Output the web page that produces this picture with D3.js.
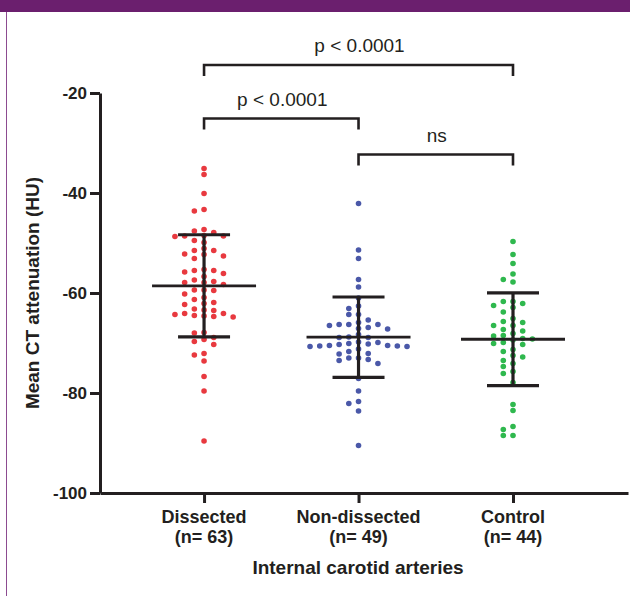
<!DOCTYPE html>
<html>
<head>
<meta charset="utf-8">
<script src="https://cdn.jsdelivr.net/npm/d3@7"></script>
<style>
  body { margin: 0; background: #fff; }
  svg { display: block; font-family: 'Liberation Sans', Arial, sans-serif; }
</style>
</head>
<body>
<div id="chart"></div>
<script>
// values (HU)
var groups = ['Dissected', 'Non-dissected', 'Control']
var groupColors = ['#e8393f', '#4a58a8', '#2fb84e']

var dissected = [-35.1, -36.3, -40.1, -43.3, -43.6, -47.3, -47.6, -47.9, -48.6, -48.6,
  -48.5, -48.7, -49.5, -49.9, -51.5, -51.1, -51.5, -52.6, -52.3, -52.2, -53.1, -55.3,
  -55.5, -55.5, -56.1, -55.8, -56.7, -57.4, -57.9, -57.9, -58.3, -57.7, -59.5, -59.4,
  -59.4, -60.2, -60.9, -61.3, -61.9, -62.3, -62.1, -63.2, -63.4, -63.5, -64.1, -64.3,
  -64.7, -64.6, -64.8, -64.1, -64.5, -68.0, -67.9, -68.9, -69.3, -70.3, -69.7, -72.4,
  -72.1, -73.6, -76.7, -79.6, -89.6]

var nonDissected = [-42.1, -51.4, -53.1, -57.3, -58.8, -61.0, -62.6, -63.1, -64.3, -64.3,
  -65.4, -65.9, -66.3, -66.3, -66.5, -66.3, -67.1, -67.2, -66.9, -68.3, -68.9, -68.9,
  -68.8, -69.8, -70.2, -70.7, -70.6, -70.6, -70.5, -70.5, -69.9, -70.7, -70.3, -70.1,
  -71.2, -72.2, -71.7, -72.1, -73.3, -73.0, -73.0, -73.5, -74.1, -77.1, -79.6, -82.1,
  -81.7, -83.6, -90.5]

var control = [-49.7, -52.3, -54.1, -56.2, -57.3, -57.8, -61.7, -61.7, -62.1, -62.5,
  -62.9, -63.8, -65.1, -65.7, -65.9, -66.5, -66.5, -67.3, -67.6, -68.1, -68.5, -68.6,
  -69.2, -69.4, -69.1, -69.9, -70.3, -70.1, -71.3, -71.7, -72.5, -72.8, -73.5, -74.1,
  -74.7, -75.7, -76.1, -77.9, -82.3, -83.5, -86.7, -87.3, -88.5, -88.5]

var yTicks = [-20, -40, -60, -80, -100]

var comparisons = [
  { from: 0, to: 2, label: 'p < 0.0001' },
  { from: 0, to: 1, label: 'p < 0.0001' },
  { from: 1, to: 2, label: 'ns' }
]

var series = [dissected, nonDissected, control]

document.addEventListener('DOMContentLoaded', function () {
  var width = 630
  var height = 596
  var ink = '#231f20'

  var svg = d3.select('#chart')
    .append('svg')
    .attr('width', width)
    .attr('height', height)

  // frame: purple band on top and thin rule on the left
  svg.append('rect')
    .attr('x', 0).attr('y', 0)
    .attr('width', width).attr('height', 12)
    .attr('fill', '#6b1f6e')
  svg.append('line')
    .attr('x1', 6.5).attr('x2', 6.5)
    .attr('y1', 12).attr('y2', height)
    .attr('stroke', '#8c4b90')
    .attr('stroke-width', 1)

  var x = d3.scalePoint()
    .domain(groups)
    .range([100, 628])
    .padding(0.709)
    .align(0.475)

  var y = d3.scaleLinear()
    .domain([-100, -20])
    .range([493, 93])

  // y axis (plain hyphen for the minus, as in the figure)
  var yAxis = svg.append('g')
    .attr('transform', 'translate(100,0)')
    .call(d3.axisLeft(y)
      .tickValues(yTicks)
      .tickFormat(function (d) { return String(d) })
      .tickSize(10).tickSizeOuter(0).tickPadding(3))
  yAxis.select('.domain').attr('stroke', ink).attr('stroke-width', 3)
  yAxis.selectAll('.tick line').attr('stroke', ink).attr('stroke-width', 3)
  yAxis.selectAll('.tick text')
    .attr('fill', ink)
    .style('font-size', '17px')
    .style('font-weight', 'bold')

  // x axis
  var xAxis = svg.append('g')
    .attr('transform', 'translate(0,493)')
    .call(d3.axisBottom(x).tickSize(10).tickSizeOuter(0))
  xAxis.select('.domain').attr('stroke', ink).attr('stroke-width', 3)
  xAxis.selectAll('.tick line').attr('stroke', ink).attr('stroke-width', 3)
  xAxis.selectAll('.tick text').remove()

  var labels = svg.append('g')
    .style('font-size', '18px')
    .style('font-weight', 'bold')
    .attr('fill', ink)
    .attr('text-anchor', 'middle')
  groups.forEach(function (g, i) {
    labels.append('text')
      .attr('x', x(g)).attr('y', 523)
      .text(g)
    labels.append('text')
      .attr('x', x(g)).attr('y', 543)
      .text('(n= ' + series[i].length + ')')
  })

  svg.append('text')
    .attr('x', 358)
    .attr('y', 574)
    .attr('text-anchor', 'middle')
    .attr('fill', ink)
    .style('font-size', '19px')
    .style('font-weight', 'bold')
    .text('Internal carotid arteries')

  svg.append('text')
    .attr('transform', 'translate(38.5,293) rotate(-90)')
    .attr('text-anchor', 'middle')
    .attr('fill', ink)
    .style('font-size', '19px')
    .style('font-weight', 'bold')
    .text('Mean CT attenuation (HU)')

  // simple column scatter: push a point sideways when its slot is taken
  function swarm (values, minGap) {
    var placed = []
    var slots = new Array(values.length)
    var order = d3.range(values.length).sort(function (a, b) {
      return d3.descending(values[a], values[b])
    })
    order.forEach(function (i) {
      var py = y(values[i])
      for (var j = 0; ; j++) {
        var k = j === 0 ? 0 : (j % 2 ? -Math.ceil(j / 2) : Math.ceil(j / 2))
        var hit = placed.some(function (p) {
          return p.k === k && Math.abs(p.py - py) < minGap
        })
        if (!hit) {
          placed.push({ k: k, py: py })
          slots[i] = k
          break
        }
      }
    })
    return slots
  }

  var slotWidth = 9.7

  series.forEach(function (values, gi) {
    var cx = x(groups[gi])
    var slots = swarm(values, 5.6)
    var g = svg.append('g')

    g.selectAll('circle')
      .data(values)
      .enter()
      .append('circle')
      .attr('cx', function (d, i) { return cx + slots[i] * slotWidth })
      .attr('cy', function (d) { return y(d) })
      .attr('r', 2.8)
      .attr('fill', groupColors[gi])

    var mean = d3.mean(values)
    var sd = d3.deviation(values)

    g.append('line')
      .attr('x1', cx).attr('x2', cx)
      .attr('y1', y(mean + sd)).attr('y2', y(mean - sd))
      .attr('stroke', ink).attr('stroke-width', 3.2)
    g.append('line')
      .attr('x1', cx - 26).attr('x2', cx + 26)
      .attr('y1', y(mean + sd)).attr('y2', y(mean + sd))
      .attr('stroke', ink).attr('stroke-width', 3.2)
    g.append('line')
      .attr('x1', cx - 26).attr('x2', cx + 26)
      .attr('y1', y(mean - sd)).attr('y2', y(mean - sd))
      .attr('stroke', ink).attr('stroke-width', 3.2)
    g.append('line')
      .attr('x1', cx - 52).attr('x2', cx + 52)
      .attr('y1', y(mean)).attr('y2', y(mean))
      .attr('stroke', ink).attr('stroke-width', 2.8)
  })

  // significance brackets
  var bracketLevels = [-14.4, -25.1, -32.3]
  comparisons.forEach(function (c, i) {
    var x1 = x(groups[c.from])
    var x2 = x(groups[c.to])
    var by = y(bracketLevels[i])
    svg.append('path')
      .attr('d', 'M' + x1 + ',' + (by + 11) + 'V' + by + 'H' + x2 + 'V' + (by + 11))
      .attr('fill', 'none')
      .attr('stroke', ink)
      .attr('stroke-width', 2.6)
    svg.append('text')
      .attr('x', (x1 + x2) / 2 + 1)
      .attr('y', by - 13)
      .attr('text-anchor', 'middle')
      .attr('fill', ink)
      .style('font-size', '19px')
      .text(c.label)
  })
})
</script>
</body>
</html>
